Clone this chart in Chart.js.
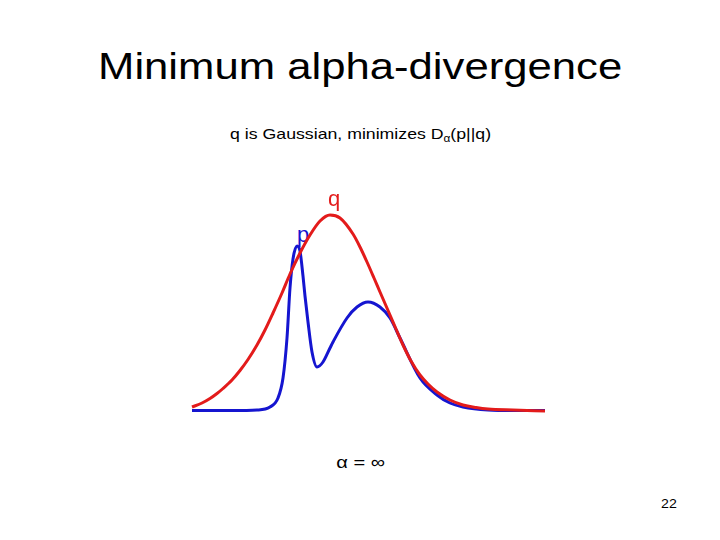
<!DOCTYPE html>
<html>
<head>
<meta charset="utf-8">
<script src="https://cdn.jsdelivr.net/npm/chart.js@4/dist/chart.umd.min.js"></script>
<style>
    html, body { margin: 0; padding: 0; background: #fff; }
    #page { position: relative; width: 720px; height: 540px; overflow: hidden; font-family: "Liberation Sans", Arial, sans-serif; color: #000; }
    .line { position: absolute; left: 0; width: 720px; text-align: center; line-height: 1; white-space: nowrap; }
    .line span { display: inline-block; transform: scaleX(1.18); transform-origin: center; }
    #title { top: 48px; font-size: 37px; }
    #subtitle { top: 126px; font-size: 15px; left: 1px; }
    #subtitle sub { font-size: 10px; vertical-align: -3px; line-height: 0; }
    #alpha { top: 454px; font-size: 17px; left: 1px; }
    #pageNo { position: absolute; left: 661px; top: 498px; font-size: 12px; line-height: 1; transform: scaleX(1.18); transform-origin: left; }
    .lbl { position: absolute; font-size: 22px; line-height: 1; }
    #lblP { left: 297px; top: 224px; color: #1515d0; z-index: 0; }
    #lblQ { left: 328px; top: 188px; color: #e31b1b; z-index: 2; }
    #chartBox { position: absolute; left: 0; top: 0; width: 720px; height: 540px; z-index: 1; }
</style>
</head>
<body>
<div id="page">
    <div class="line" id="title"><span>Minimum alpha-divergence</span></div>
    <div class="line" id="subtitle"><span>q is Gaussian, minimizes D<sub>α</sub>(p||q)</span></div>
    <div class="line" id="alpha"><span>α = ∞</span></div>
    <div id="pageNo">22</div>
    <div class="lbl" id="lblP">p</div>
    <div class="lbl" id="lblQ">q</div>
    <div id="chartBox"><canvas id="divChart" width="720" height="540"></canvas></div>
</div>
<script>
// curves (x: position along the plot, y: height above baseline)
let qX = [0, 10, 18, 25, 31, 40, 48, 56, 65, 73, 81, 90, 98, 108, 118, 128, 138, 148, 161, 168, 175, 182, 188, 198, 204, 211, 219, 228, 236, 245, 258, 271, 284, 296, 321, 353];
let qY = [4, 8, 12.5, 17.5, 22.5, 31, 40.5, 51.5, 66, 81, 98, 118, 137, 158, 176, 190, 196, 193, 177, 164, 149, 133, 119, 96, 82, 66, 50, 36, 27, 19, 11, 6, 3.5, 2, 1, 0];

let pX = [0, 40, 65, 78, 86, 91, 95, 98, 101, 105, 108, 111, 113, 116, 120, 125, 131, 138, 141, 155, 165, 176, 188, 198, 208, 228, 245, 258, 271, 296, 321, 353];
let pY = [0.5, 0.5, 1, 4, 13, 33, 73, 123, 152, 165, 160, 135, 115, 89, 59, 44, 49, 63, 69, 93, 104, 109, 104, 93, 73, 33, 16, 8, 4, 1, 0.5, 0.5];

function toPoints(xs, ys) {
    return xs.map(function(x, i) { return { x: x, y: ys[i] }; });
}

function manageDivergenceChart() {
    let ctx = document.getElementById("divChart").getContext('2d');
    let myLineChart = new Chart(ctx, {
        type: 'line',
        data: {
            datasets: [{
                label: 'q',
                data: toPoints(qX, qY),
                borderColor: "#e31b1b",
                borderWidth: 3,
                pointRadius: 0,
                cubicInterpolationMode: 'monotone',
                clip: false
            }, {
                label: 'p',
                data: toPoints(pX, pY),
                borderColor: "#1515d0",
                borderWidth: 3,
                pointRadius: 0,
                cubicInterpolationMode: 'monotone',
                clip: false
            }]
        },
        options: {
            responsive: false,
            animation: false,
            layout: { padding: { left: 192, right: 175, top: 211, bottom: 129 } },
            plugins: { legend: { display: false }, tooltip: { enabled: false } },
            scales: {
                x: { type: 'linear', min: 0, max: 353, display: false },
                y: { min: 0, max: 200, display: false }
            }
        }
    });
}

manageDivergenceChart();
</script>
</body>
</html>
